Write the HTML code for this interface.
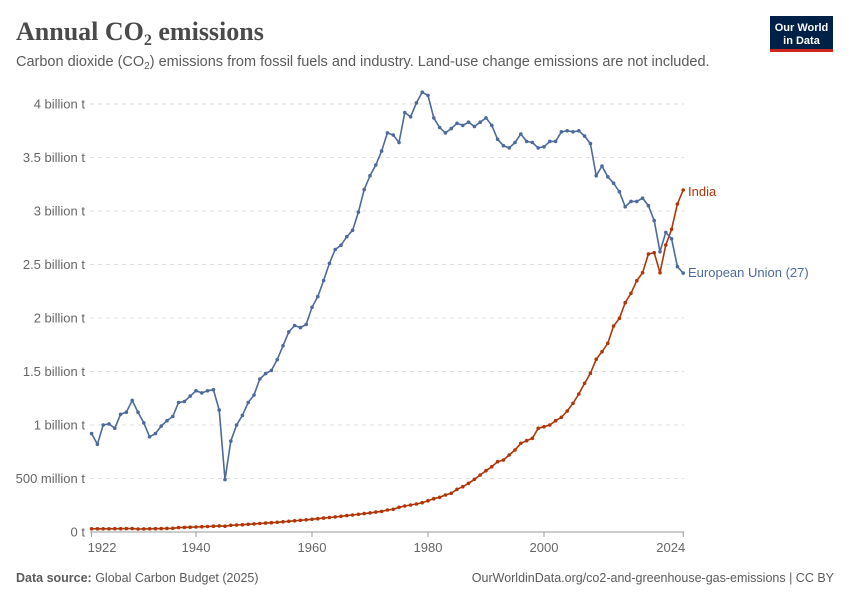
<!DOCTYPE html>
<html><head><meta charset="utf-8"><style>
body{margin:0;background:#fff;width:850px;height:600px;overflow:hidden;font-family:"Liberation Sans",sans-serif}
</style></head><body>
<svg id="s" width="850" height="600" xmlns="http://www.w3.org/2000/svg" font-family="Liberation Sans, sans-serif">
<text x="16" y="40" font-family="Liberation Serif, serif" font-size="26" font-weight="bold" fill="#4a4a4a">Annual CO<tspan font-size="16" dy="5">2</tspan><tspan dy="-5"> emissions</tspan></text>
<text x="16" y="66" font-size="14.5" fill="#5b5b5b">Carbon dioxide (CO<tspan font-size="10" dy="3">2</tspan><tspan dy="-3">) emissions from fossil fuels and industry. Land-use change emissions are not included.</tspan></text>
<rect x="770" y="16" width="63" height="36" fill="#002147"/>
<rect x="770" y="49" width="63" height="3" fill="#ce261e"/>
<text x="801.5" y="31" font-size="11" font-weight="bold" fill="#fff" text-anchor="middle">Our World</text>
<text x="801.5" y="44" font-size="11" font-weight="bold" fill="#fff" text-anchor="middle">in Data</text>
<g id="grid"></g>
<line x1="90" y1="532" x2="684" y2="532" stroke="#999" stroke-width="1"/>
<g id="data"></g>
<text x="688" y="196" font-size="13" fill="#b13507">India</text>
<text x="688" y="277" font-size="13" fill="#4c6a9c">European Union (27)</text>
<text x="16" y="582" font-size="12.5" fill="#5b5b5b"><tspan font-weight="bold">Data source:</tspan> Global Carbon Budget (2025)</text>
<text x="834" y="582" font-size="12.5" fill="#5b5b5b" text-anchor="end">OurWorldinData.org/co2-and-greenhouse-gas-emissions | CC BY</text>
</svg>
<script>
var NS="http://www.w3.org/2000/svg";
function el(p,t,a,txt){var e=document.createElementNS(NS,t);for(var k in a)e.setAttribute(k,a[k]);if(txt)e.textContent=txt;document.getElementById(p).appendChild(e);return e;}
function X(y){return 428+(y-1980)*5.8;}
function Y(v){return 532-v*107;}
var labs=["0 t","500 million t","1 billion t","1.5 billion t","2 billion t","2.5 billion t","3 billion t","3.5 billion t","4 billion t"];
for(var i=0;i<9;i++){var y=Y(i*0.5);
 if(i>0)el("grid","line",{x1:90,x2:684,y1:y,y2:y,stroke:"#ddd","stroke-dasharray":"4,4"});
 el("grid","text",{x:85,y:y+4.5,"font-size":"13","fill":"#666","text-anchor":"end"},labs[i]);}
[[1922,"start"],[1940,"middle"],[1960,"middle"],[1980,"middle"],[2000,"middle"],[2024,"end"]].forEach(function(t){
 var x=X(t[0]);el("grid","line",{x1:x,x2:x,y1:532,y2:537,stroke:"#999"});
 var tx=t[1]=="start"?x-4:(t[1]=="end"?x+2:x);
 el("grid","text",{x:tx,y:552,"font-size":"13",fill:"#666","text-anchor":t[1]},t[0]);});
var eu=[0.92,0.82,1.0,1.01,0.97,1.10,1.12,1.23,1.12,1.02,0.89,0.92,0.99,1.04,1.08,1.21,1.22,1.27,1.32,1.30,1.32,1.33,1.14,0.49,0.85,1.0,1.09,1.21,1.28,1.43,1.48,1.51,1.61,1.74,1.87,1.93,1.91,1.94,2.10,2.20,2.35,2.51,2.64,2.68,2.76,2.82,2.99,3.20,3.33,3.43,3.56,3.73,3.71,3.64,3.92,3.88,4.01,4.11,4.08,3.87,3.78,3.73,3.77,3.82,3.80,3.83,3.79,3.83,3.87,3.80,3.67,3.61,3.59,3.64,3.72,3.65,3.64,3.59,3.60,3.65,3.65,3.74,3.75,3.74,3.75,3.70,3.63,3.33,3.42,3.32,3.26,3.18,3.04,3.09,3.09,3.12,3.05,2.91,2.62,2.80,2.74,2.48,2.42];
var ind=[];
for(var y=1922;y<1973;y++){var v=0.03+0.17*Math.pow((y-1922)/51,2.2);if(y>=1930&&y<=1936)v-=0.005;if(y==1945)v-=0.005;ind.push(v);}
var iz=[1290,1288,1282,1278,1275,1272,1268,1262,1256,1252,1245,1240,1228,1220,1210,1198,1185,1172,1160,1145,1140,1125,1110,1090,1082,1075,1045,1040,1035,1022,1012,993,970,942,910,880,838,815,790,738,715,668,640,602,578,522,518,578,495,448,372,330];
iz.forEach(function(z){ind.push((532-(80+z/3))/107);});
function draw(arr,col){var pts=arr.map(function(v,i){return X(1922+i).toFixed(1)+","+Y(v).toFixed(1);});
 el("data","polyline",{points:pts.join(" "),fill:"none",stroke:col,"stroke-width":"1.6"});
 pts.forEach(function(p){var a=p.split(",");el("data","circle",{cx:a[0],cy:a[1],r:1.8,fill:col});});}
draw(ind,"#b13507");draw(eu,"#4c6a9c");
</script>
</body></html>
